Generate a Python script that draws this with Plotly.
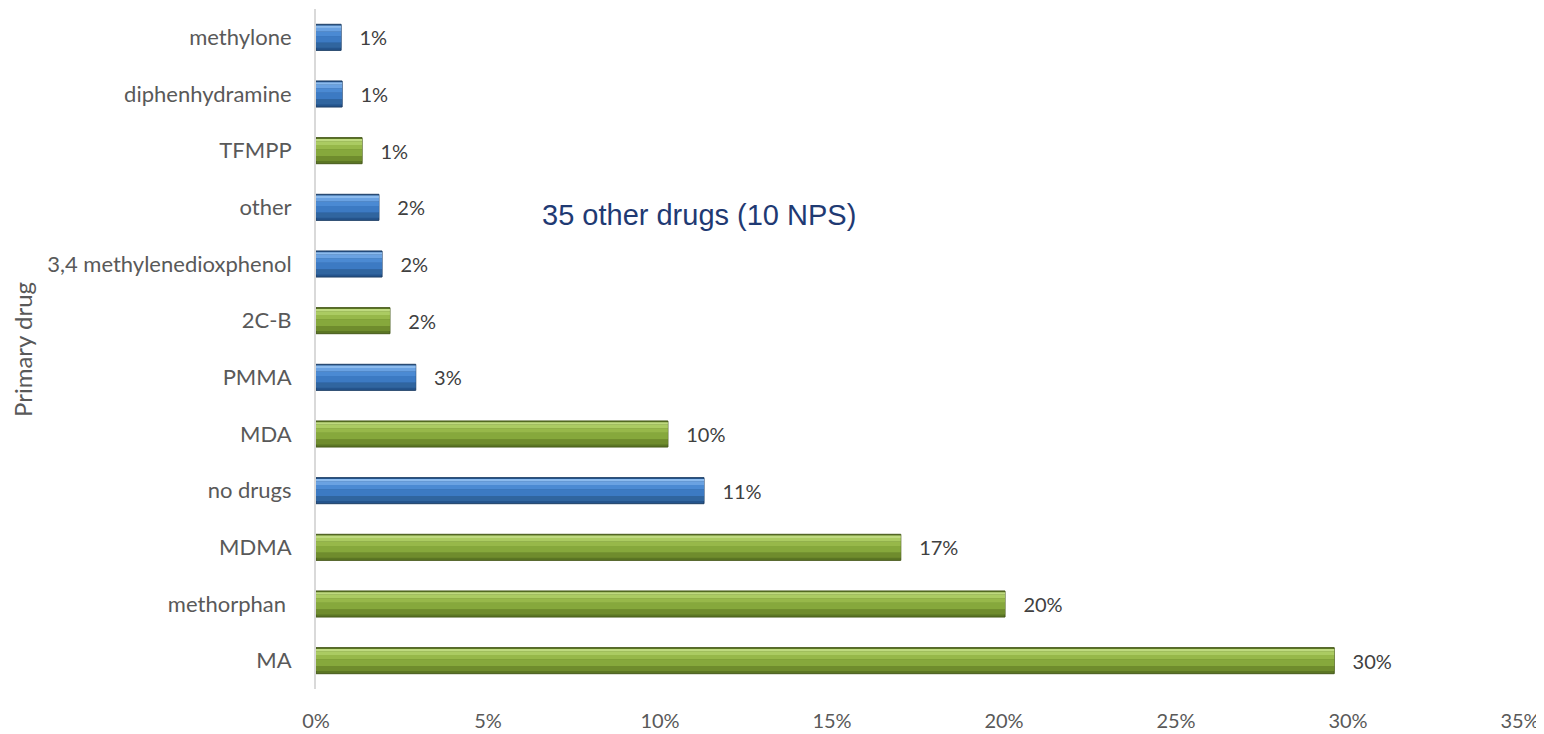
import plotly.graph_objects as go

categories = ["MA", "methorphan ", "MDMA", "no drugs", "MDA", "PMMA", "2C-B",
              "3,4 methylenedioxphenol", "other", "TFMPP", "diphenhydramine", "methylone"]
values = [0.296, 0.2003, 0.170, 0.1128, 0.1023, 0.029, 0.0215, 0.0192, 0.0183, 0.0134, 0.0076, 0.0073]
groups = ["green", "green", "green", "blue", "green", "blue", "green",
          "blue", "blue", "green", "blue", "blue"]
x_ticks = [0, 0.05, 0.10, 0.15, 0.20, 0.25, 0.30, 0.35]
x_ticktext = ["0%", "5%", "10%", "15%", "20%", "25%", "30%", "35%"]

# gradient bands from bottom to top: (start fraction, end fraction, blue colour, green colour)
bands = [
    (0.10, 0.30, "#30659F", "#6F8C2D"),
    (0.30, 0.55, "#3C7AC3", "#86A83C"),
    (0.55, 0.72, "#4B8AD3", "#97B84A"),
    (0.72, 0.86, "#6AA2E2", "#ABCB62"),
    (0.86, 0.95, "#8CBBEE", "#BFDA80"),
]
base_colors = {"blue": "#24548C", "green": "#5B7624"}
line_colors = {"blue": "#1E3F66", "green": "#46591A"}

FONT = "Lato, Open Sans, sans-serif"
TXT = "#595959"

fig = go.Figure()
W = 0.46
fig.add_trace(go.Bar(
    y=categories, x=values, orientation="h", width=W, offset=-W / 2,
    marker=dict(color=[base_colors[g] for g in groups],
                line=dict(color=[line_colors[g] for g in groups], width=1)),
    texttemplate="   %{x:.0%}", textposition="outside", cliponaxis=False,
    textfont=dict(family=FONT, size=20, color="#404040"),
    hoverinfo="skip", showlegend=False,
))
for lo, hi, cb, cg in bands:
    fig.add_trace(go.Bar(
        y=categories, x=values, orientation="h",
        width=W * (hi - lo), offset=-W / 2 + W * lo,
        marker=dict(color=[cb if g == "blue" else cg for g in groups], line=dict(width=0)),
        hoverinfo="skip", showlegend=False,
    ))

fig.add_annotation(
    text="35 other drugs (10 NPS)", xref="paper", yref="paper",
    x=(540 - 316) / 1204, y=(689 - 215) / 680, xanchor="left", yanchor="middle", showarrow=False,
    font=dict(family="Liberation Sans, Arial, sans-serif", size=29, color="#1F3A73"),
)
fig.add_annotation(
    text="Primary drug", xref="paper", yref="paper",
    x=(22 - 316) / 1204, y=(689 - 350) / 680, xanchor="center", yanchor="middle",
    textangle=-90, showarrow=False,
    font=dict(family=FONT, size=24, color=TXT),
)

# page body has an 8px margin: figure sized/margined so the plot area lands at 316..1520 x 9..689
fig.update_layout(
    barmode="overlay",
    width=1536, height=726,
    margin=dict(l=308, r=24, t=1, b=45, autoexpand=False),
    paper_bgcolor="white", plot_bgcolor="white",
    font=dict(family=FONT, size=21, color=TXT),
    xaxis=dict(range=[0, 0.35], tickvals=x_ticks, ticktext=x_ticktext, automargin=False,
               showgrid=False, zeroline=False, showline=False,
               tickfont=dict(size=20, color=TXT), ticklabelstandoff=18),
    yaxis=dict(type="category", categoryorder="array", categoryarray=categories, automargin=False,
               showgrid=False, zeroline=False, showline=True, linecolor="#D9D9D9", linewidth=2,
               tickfont=dict(size=22, color=TXT), ticklabelstandoff=18),
)

fig.write_html("out.html")
